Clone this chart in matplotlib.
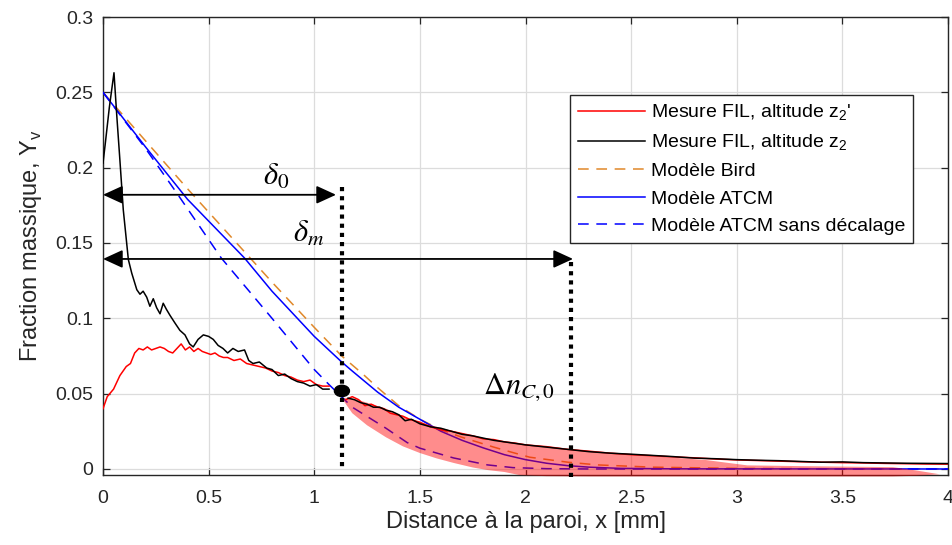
import matplotlib
matplotlib.use("Agg")
import matplotlib.pyplot as plt
from matplotlib.patches import Ellipse

plt.rcParams['font.family'] = ['Liberation Sans', 'DejaVu Sans']

# ---------------- data ----------------
# Measurement FIL, altitude z2 (black), two segments
black1_x = [0.0, 0.01, 0.03, 0.052, 0.065, 0.08, 0.096, 0.12, 0.136, 0.16, 0.175, 0.19, 0.207, 0.222,
            0.238, 0.254, 0.27, 0.285, 0.30, 0.317, 0.34, 0.364, 0.388, 0.41, 0.427, 0.45, 0.475,
            0.50, 0.522, 0.545, 0.568, 0.59, 0.615, 0.64, 0.67, 0.69, 0.71, 0.74, 0.775, 0.80,
            0.83, 0.86, 0.89, 0.92, 0.95, 0.98, 1.01, 1.04, 1.07]
black1_y = [0.203, 0.215, 0.240, 0.263, 0.235, 0.205, 0.172, 0.139, 0.130, 0.119, 0.116, 0.118, 0.114, 0.108,
            0.113, 0.107, 0.103, 0.110, 0.106, 0.102, 0.097, 0.092, 0.089, 0.083, 0.081, 0.086, 0.089,
            0.088, 0.086, 0.082, 0.080, 0.077, 0.080, 0.078, 0.079, 0.072, 0.070, 0.071, 0.067, 0.066,
            0.062, 0.063, 0.060, 0.058, 0.057, 0.055, 0.056, 0.053, 0.053]
black2_x = [1.16, 1.19, 1.22, 1.25, 1.28, 1.31, 1.34, 1.37, 1.40, 1.43, 1.46, 1.50, 1.55, 1.60, 1.65,
            1.70, 1.75, 1.80, 1.85, 1.90, 1.95, 2.0, 2.1, 2.2, 2.3, 2.4, 2.5, 2.6, 2.7, 2.8, 2.9,
            3.0, 3.1, 3.2, 3.3, 3.4, 3.5, 3.6, 3.7, 3.8, 3.9, 4.0]
black2_y = [0.047, 0.046, 0.044, 0.043, 0.041, 0.041, 0.039, 0.038, 0.036, 0.032, 0.033, 0.030, 0.028,
            0.027, 0.025, 0.023, 0.022, 0.0205, 0.019, 0.018, 0.017, 0.016, 0.0145, 0.013, 0.0115,
            0.0105, 0.0098, 0.009, 0.0082, 0.0072, 0.0068, 0.0062, 0.0058, 0.0055, 0.0050, 0.0045,
            0.0047, 0.0042, 0.0040, 0.0038, 0.0037, 0.0036]

# Measurement FIL, altitude z2' (red), two segments
red1_x = [0.0, 0.02, 0.05, 0.08, 0.11, 0.13, 0.15, 0.17, 0.19, 0.21, 0.23, 0.25, 0.27, 0.29, 0.31,
          0.33, 0.35, 0.37, 0.39, 0.41, 0.43, 0.45, 0.47, 0.49, 0.51, 0.53, 0.55, 0.57, 0.59, 0.62,
          0.65, 0.68, 0.71, 0.74, 0.77, 0.80, 0.83, 0.86, 0.89, 0.92, 0.95, 0.98, 1.01, 1.04, 1.07]
red1_y = [0.040, 0.048, 0.053, 0.062, 0.068, 0.070, 0.077, 0.080, 0.079, 0.081, 0.079, 0.080, 0.081,
          0.080, 0.078, 0.077, 0.080, 0.083, 0.079, 0.081, 0.078, 0.080, 0.078, 0.077, 0.076, 0.077,
          0.075, 0.074, 0.074, 0.072, 0.073, 0.070, 0.069, 0.068, 0.067, 0.065, 0.064, 0.062, 0.061,
          0.059, 0.058, 0.059, 0.056, 0.055, 0.055]
red2_x = [1.15, 1.18, 1.21, 1.24, 1.27, 1.30, 1.33, 1.36, 1.39, 1.42, 1.45, 1.50, 1.55, 1.60, 1.65,
          1.70, 1.75, 1.80, 1.85, 1.90, 1.95, 2.0, 2.1, 2.2, 2.3, 2.4, 2.5, 2.6, 2.7, 2.8, 2.9,
          3.0, 3.1, 3.2, 3.3, 3.4, 3.5, 3.6, 3.7, 3.8, 3.9, 4.0]
red2_y = [0.046, 0.048, 0.046, 0.042, 0.043, 0.041, 0.040, 0.037, 0.036, 0.035, 0.033, 0.031, 0.028,
          0.026, 0.025, 0.0235, 0.022, 0.020, 0.0195, 0.018, 0.0172, 0.016, 0.0148, 0.013, 0.0118,
          0.0105, 0.0095, 0.0088, 0.0080, 0.0074, 0.0066, 0.0060, 0.0056, 0.0052, 0.0048, 0.0045,
          0.0042, 0.0040, 0.0037, 0.0035, 0.0033, 0.0032]

# Models
bird_x = [0.0, 0.2, 0.4, 0.6, 0.8, 1.0, 1.13, 1.23, 1.3, 1.4, 1.5, 1.6, 1.7, 1.85, 1.93, 2.02, 2.2,
          2.34, 2.6, 3.0, 3.5, 4.0]
bird_y = [0.250, 0.218, 0.186, 0.155, 0.124, 0.094, 0.075, 0.063, 0.054, 0.042, 0.033, 0.026, 0.021,
          0.0145, 0.0113, 0.0078, 0.0045, 0.0027, 0.0012, 0.0004, 0.0001, 0.0]
atcm_x = [0.0, 0.2, 0.4, 0.67, 0.8, 1.0, 1.13, 1.18, 1.3, 1.4, 1.5, 1.6, 1.7, 1.8, 1.9, 2.0, 2.1,
          2.2, 2.3, 2.45, 2.7, 4.0]
atcm_y = [0.250, 0.214, 0.179, 0.140, 0.118, 0.088, 0.071, 0.065, 0.051, 0.041, 0.033, 0.025, 0.019,
          0.014, 0.0095, 0.0062, 0.0038, 0.0022, 0.0012, 0.0004, 0.0001, 0.0]
atcm0_x = [0.0, 0.2, 0.35, 0.56, 0.8, 1.0, 1.07, 1.18, 1.34, 1.44, 1.5, 1.66, 1.82, 1.94, 2.1, 2.3, 4.0]
atcm0_y = [0.250, 0.213, 0.183, 0.140, 0.100, 0.066, 0.056, 0.041, 0.027, 0.0175, 0.0138, 0.0073,
           0.0027, 0.0009, 0.0002, 0.0, 0.0]

# Shaded band
shade_x = [1.13, 1.18, 1.25, 1.34, 1.42, 1.5, 1.58, 1.66, 1.75, 1.82, 1.9, 1.97, 2.1, 2.3, 2.5, 2.7,
           2.85, 2.95, 3.05, 3.3, 3.5, 3.74, 3.85, 3.96]
shade_hi = [0.047, 0.047, 0.044, 0.040, 0.035, 0.031, 0.028, 0.025, 0.022, 0.020, 0.018, 0.0165,
            0.0145, 0.0115, 0.0095, 0.0075, 0.0060, 0.0042, 0.0024, 0.0019, 0.0016, 0.0012, -0.001, -0.0035]
shade_lo = [0.047, 0.037, 0.029, 0.021, 0.015, 0.0106, 0.007, 0.004, 0.001, -0.0007, -0.002, -0.004,
            -0.0048, -0.005, -0.005, -0.005, -0.005, -0.005, -0.005, -0.005, -0.005, -0.005, -0.0045, -0.0035]

x_ticks = [0, 0.5, 1, 1.5, 2, 2.5, 3, 3.5, 4]
x_tick_labels = ['0', '0.5', '1', '1.5', '2', '2.5', '3', '3.5', '4']
y_ticks = [0, 0.05, 0.1, 0.15, 0.2, 0.25, 0.3]
y_tick_labels = ['0', '0.05', '0.1', '0.15', '0.2', '0.25', '0.3']

labels = ["Mesure FIL, altitude z$_\\mathregular{2}$'",
          "Mesure FIL, altitude z$_\\mathregular{2}$",
          "Modèle Bird", "Modèle ATCM", "Modèle ATCM sans décalage"]

delta0_x, delta0_y = 1.103, 0.182
deltam_x, deltam_y = 2.225, 0.1394
wall_line1 = 1.131
wall_line2 = 2.215
dot_x, dot_y = 1.131, 0.0518

# ---------------- figure ----------------
fig = plt.figure(figsize=(9.52, 5.45), dpi=100)
ax = fig.add_axes([103 / 952, 70 / 545, 845 / 952, 458 / 545])

txt = '#262626'
orange = '#E0882A'

l_red, = ax.plot(red1_x, red1_y, color='#FF0000', lw=1.1, zorder=5)
ax.plot(red2_x, red2_y, color='#FF0000', lw=1.1, zorder=5)
l_blk, = ax.plot(black1_x, black1_y, color='black', lw=1.1, zorder=5.5)
ax.plot(black2_x, black2_y, color='black', lw=1.1, zorder=5.5)
l_bird, = ax.plot(bird_x, bird_y, color=orange, lw=1.1, dashes=(7, 5), zorder=3)
l_atcm, = ax.plot(atcm_x, atcm_y, color='#0000FF', lw=1.1, zorder=3)
l_atcm0, = ax.plot(atcm0_x, atcm0_y, color='#0000FF', lw=1.1, dashes=(7, 5), zorder=3)

ax.fill_between(shade_x, shade_lo, shade_hi, facecolor=(1, 0, 0), alpha=0.45, lw=0,
                zorder=4, clip_on=False)

# arrows
arrow_kw = dict(arrowstyle='<|-|>,head_length=1.2,head_width=0.55', color='black', lw=1.3,
                shrinkA=0, shrinkB=0, mutation_scale=10)
ax.annotate('', xy=(0, delta0_y), xytext=(delta0_x, delta0_y), arrowprops=arrow_kw, zorder=6)
ax.annotate('', xy=(0, deltam_y), xytext=(deltam_x, deltam_y), arrowprops=arrow_kw, zorder=6)

# dotted vertical lines
ax.plot([wall_line1, wall_line1], [0.187, -0.0005], color='black', lw=3,
        linestyle=(0, (1, 1.2)), dash_capstyle='butt', zorder=6, clip_on=False)
ax.plot([wall_line2, wall_line2], [0.1374, -0.008], color='black', lw=3,
        linestyle=(0, (1, 1.2)), dash_capstyle='butt', zorder=6, clip_on=False)

ax.add_patch(Ellipse((dot_x, dot_y), width=0.071, height=0.0075, color='black', zorder=7))

# math labels
ax.text(0.82, 0.194, r'$\delta_0$', fontsize=22, math_fontfamily='stix', ha='center', va='center')
ax.text(0.975, 0.156, r'$\delta_m$', fontsize=22, math_fontfamily='stix', ha='center', va='center')
ax.text(1.97, 0.054, r'$\Delta n_{C,0}$', fontsize=22, math_fontfamily='stix', ha='center', va='center')

# axes styling
ax.set_xlim(0, 4)
ax.set_ylim(-0.004, 0.3)
ax.set_xticks(x_ticks)
ax.set_xticklabels(x_tick_labels)
ax.set_yticks(y_ticks)
ax.set_yticklabels(y_tick_labels)
ax.grid(True, color='#dcdcdc', lw=0.9)
ax.tick_params(direction='in', length=5, width=0.9, top=True, right=True, colors=txt,
               labelsize=14)
ax.tick_params(axis='x', pad=11)
ax.tick_params(axis='y', pad=7)
for s in ax.spines.values():
    s.set_color(txt)
    s.set_linewidth(1.0)

ax.set_xlabel('Distance à la paroi, x [mm]', fontsize=17, color=txt, labelpad=3)
ax.set_ylabel('Fraction massique, Y$_\\mathregular{v}$', fontsize=17, color=txt, labelpad=8)

leg = ax.legend([l_red, l_blk, l_bird, l_atcm, l_atcm0], labels, loc='upper right',
                bbox_to_anchor=(0.9586, 0.830), borderaxespad=0, fancybox=False,
                framealpha=1, edgecolor='#262626', fontsize=14, handlelength=3.45,
                labelspacing=0.5, borderpad=0.4, handletextpad=0.3)
leg.get_frame().set_linewidth(1.0)
for t in leg.get_texts():
    t.set_color('black')

fig.savefig('out.png', dpi=100)
